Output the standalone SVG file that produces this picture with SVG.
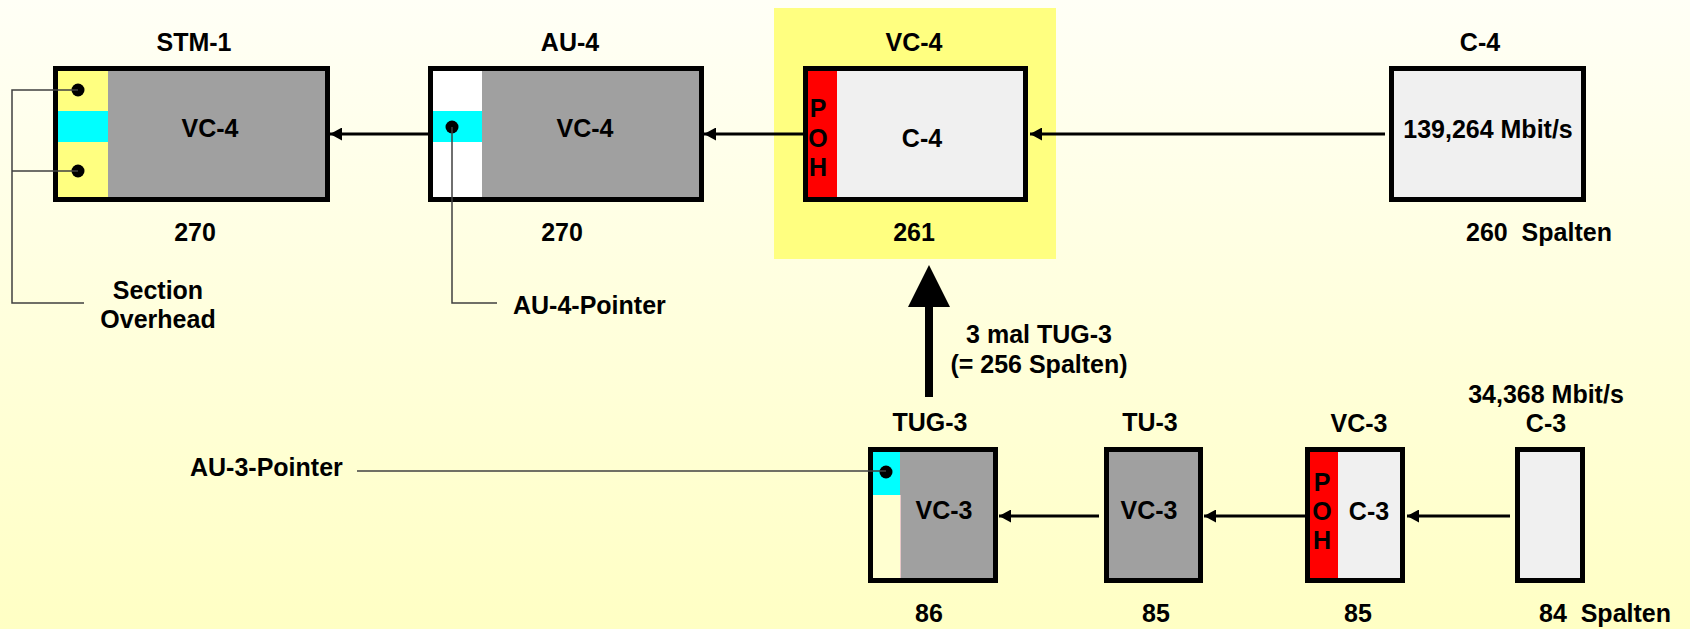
<svg xmlns="http://www.w3.org/2000/svg" width="1690" height="629" viewBox="0 0 1690 629">
<defs>
<linearGradient id="bg" x1="0" y1="0" x2="0" y2="1">
<stop offset="0" stop-color="#FFFFF6"/>
<stop offset="1" stop-color="#FFFFC4"/>
</linearGradient>
<marker id="ah" viewBox="0 0 12 13" refX="12" refY="6.5" markerWidth="12" markerHeight="13" markerUnits="userSpaceOnUse" orient="auto">
<path d="M0,0 L12,6.5 L0,13 Z" fill="#000"/>
</marker>
<style>
text{font-family:"Liberation Sans",Arial,sans-serif;font-weight:bold;font-size:25px;fill:#000}
.m{text-anchor:middle}
.frame{fill:none;stroke:#000;stroke-width:5}
.gray{fill:#A0A0A0}
.light{fill:#F0F0F0}
.red{fill:#FF0000}
.cyan{fill:#00FFFF}
.yel{fill:#FFFF80}
.conn{stroke:#000;stroke-width:3;fill:none;marker-end:url(#ah)}
.lead{stroke:#404040;stroke-width:1.5;fill:none}
.dot{fill:#000}
</style>
</defs>
<rect x="0" y="0" width="1690" height="629" fill="url(#bg)"/>
<rect x="774" y="8" width="282" height="251" class="yel"/>

<g id="connectors">
<line x1="428" y1="134" x2="330" y2="134" class="conn"/>
<line x1="803" y1="134" x2="704" y2="134" class="conn"/>
<line x1="1385" y1="134" x2="1030" y2="134" class="conn"/>
<line x1="1099" y1="516" x2="999" y2="516" class="conn"/>
<line x1="1305" y1="516" x2="1204" y2="516" class="conn"/>
<line x1="1510" y1="516" x2="1407" y2="516" class="conn"/>
<rect x="925" y="306" width="8" height="91" fill="#000"/>
<path d="M908,307 L950,307 L929,265 Z" fill="#000"/>
<text x="1039" y="343" class="m">3 mal TUG-3</text>
<text x="1039" y="373" class="m">(= 256 Spalten)</text>
</g>

<g id="stm1">
<text x="194" y="51" class="m">STM-1</text>
<rect x="55" y="68" width="273" height="132" class="gray"/>
<rect x="56" y="68" width="52" height="132" class="yel"/>
<rect x="56" y="111" width="52" height="31" class="cyan"/>
<rect x="55.5" y="68.5" width="272" height="131" class="frame"/>
<text x="210" y="137" class="m">VC-4</text>
<text x="195" y="241" class="m">270</text>
<circle cx="78" cy="90" r="6.5" class="dot"/>
<circle cx="78" cy="171" r="6.5" class="dot"/>
<path d="M78,90 H12 V303 H84 M12,171 H78" class="lead"/>
<text x="158" y="299" class="m">Section</text>
<text x="158" y="328" class="m">Overhead</text>
</g>

<g id="au4">
<text x="570" y="51" class="m">AU-4</text>
<rect x="430" y="68" width="272" height="132" class="gray"/>
<rect x="431" y="68" width="51" height="132" fill="#FFFFFF"/>
<rect x="431" y="111" width="51" height="31" class="cyan"/>
<rect x="430.5" y="68.5" width="271" height="131" class="frame"/>
<text x="585" y="137" class="m">VC-4</text>
<text x="562" y="241" class="m">270</text>
<circle cx="452" cy="127" r="6.5" class="dot"/>
<path d="M452,127 V303 H497" class="lead"/>
<text x="513" y="314">AU-4-Pointer</text>
</g>

<g id="vc4">
<text x="914" y="51" class="m">VC-4</text>
<rect x="805" y="68" width="221" height="132" class="light"/>
<rect x="806" y="68" width="31" height="132" class="red"/>
<rect x="805.5" y="68.5" width="220" height="131" class="frame"/>
<text x="818" y="117" class="m" font-size="22">P</text>
<text x="818" y="147" class="m" font-size="22">O</text>
<text x="818" y="176" class="m" font-size="22">H</text>
<text x="922" y="147" class="m">C-4</text>
<text x="914" y="241" class="m">261</text>
</g>

<g id="c4">
<text x="1480" y="51" class="m">C-4</text>
<rect x="1391.5" y="68.5" width="192" height="131" class="light"/>
<rect x="1391.5" y="68.5" width="192" height="131" class="frame"/>
<text x="1488" y="138" class="m">139,264 Mbit/s</text>
<text x="1466" y="241" xml:space="preserve">260  Spalten</text>
</g>

<g id="tug3">
<text x="930" y="431" class="m">TUG-3</text>
<rect x="870" y="449" width="126" height="132" class="gray"/>
<rect x="871" y="449" width="29" height="132" fill="#FFFFD0"/>
<rect x="871" y="452" width="29" height="43" class="cyan"/>
<line x1="900.5" y1="495" x2="900.5" y2="581" stroke="#E8C8C8" stroke-width="1"/>
<rect x="870.5" y="449.5" width="125" height="131" class="frame"/>
<text x="944" y="519" class="m">VC-3</text>
<text x="929" y="622" class="m">86</text>
<circle cx="886" cy="472" r="6.5" class="dot"/>
<path d="M886,471 H357" class="lead"/>
<text x="190" y="476">AU-3-Pointer</text>
</g>

<g id="tu3">
<text x="1150" y="431" class="m">TU-3</text>
<rect x="1106.5" y="449.5" width="94" height="131" class="gray"/>
<rect x="1106.5" y="449.5" width="94" height="131" class="frame"/>
<text x="1149" y="519" class="m">VC-3</text>
<text x="1156" y="622" class="m">85</text>
</g>

<g id="vc3">
<text x="1359" y="432" class="m">VC-3</text>
<rect x="1307" y="449" width="96" height="132" class="light"/>
<rect x="1308" y="449" width="30" height="132" class="red"/>
<rect x="1307.5" y="449.5" width="95" height="131" class="frame"/>
<text x="1322" y="491" class="m" font-size="22">P</text>
<text x="1322" y="520" class="m" font-size="22">O</text>
<text x="1322" y="549" class="m" font-size="22">H</text>
<text x="1369" y="520" class="m">C-3</text>
<text x="1358" y="622" class="m">85</text>
</g>

<g id="c3">
<text x="1546" y="403" class="m">34,368 Mbit/s</text>
<text x="1546" y="432" class="m">C-3</text>
<rect x="1517.5" y="449.5" width="65" height="131" class="light"/>
<rect x="1517.5" y="449.5" width="65" height="131" class="frame"/>
<text x="1539" y="622" xml:space="preserve">84  Spalten</text>
</g>
</svg>
